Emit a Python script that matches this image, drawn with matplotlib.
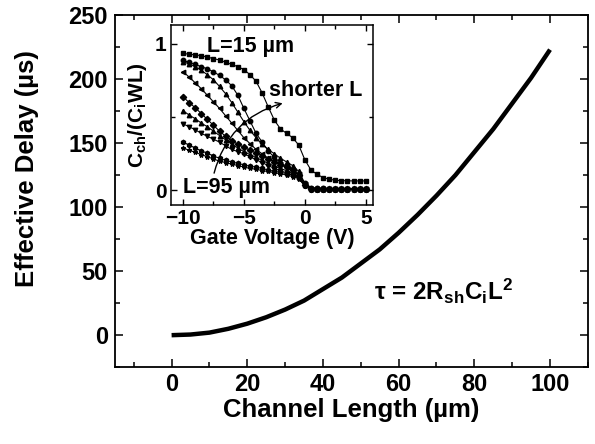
import numpy as np
import matplotlib
matplotlib.use("Agg")
import matplotlib.pyplot as plt
from matplotlib.ticker import MultipleLocator

plt.rcParams['font.family'] = ['Liberation Sans', 'DejaVu Sans']
plt.rcParams['font.weight'] = 'bold'
plt.rcParams['mathtext.fontset'] = 'custom'
plt.rcParams['mathtext.rm'] = 'Liberation Sans:bold'
plt.rcParams['mathtext.it'] = 'Liberation Sans:bold'
plt.rcParams['mathtext.bf'] = 'Liberation Sans:bold'

# main curve: effective delay vs channel length
channel_length = [0, 5, 10, 15, 20, 25, 30, 35, 40, 45, 50,
                  55, 60, 65, 70, 75, 80, 85, 90, 95, 100]
delay = [0, 0.5, 2, 5, 9, 14, 20, 27, 36, 45, 56,
         67, 80, 94, 109, 125, 143, 161, 181, 201, 223]

# inset: normalized channel capacitance vs gate voltage
gate_v = [-10, -9.5, -9, -8.5, -8, -7.5, -7, -6.5, -6, -5.5, -5, -4.5, -4, -3.5, -3, -2.5,
          -2, -1.5, -1, -0.5, 0, 0.5, 1, 1.5, 2, 2.5, 3, 3.5, 4, 4.5, 5]
c_L15 = [0.935, 0.93, 0.925, 0.92, 0.91, 0.90, 0.89, 0.875, 0.86, 0.845, 0.825, 0.79, 0.745, 0.665,
         0.57, 0.48, 0.42, 0.39, 0.36, 0.31, 0.21, 0.14, 0.11, 0.088, 0.077, 0.07, 0.067, 0.066,
         0.065, 0.065, 0.065]
c_L25 = [0.888, 0.875, 0.86, 0.845, 0.83, 0.81, 0.785, 0.755, 0.715, 0.65, 0.56, 0.475, 0.39, 0.33,
         0.27, 0.225, 0.19, 0.165, 0.14, 0.10, 0.05, 0.02, 0.015, 0.015, 0.012, 0.012, 0.012, 0.012,
         0.012, 0.012, 0.012]
c_L35 = [0.878, 0.865, 0.845, 0.82, 0.79, 0.755, 0.71, 0.66, 0.60, 0.535, 0.47, 0.41, 0.36, 0.315,
         0.28, 0.25, 0.22, 0.195, 0.17, 0.13, 0.05, 0.015, 0.012, 0.012, 0.012, 0.012, 0.012, 0.012,
         0.012, 0.012, 0.012]
c_L45 = [0.81, 0.775, 0.735, 0.695, 0.65, 0.605, 0.56, 0.51, 0.46, 0.41, 0.36, 0.32, 0.28, 0.25,
         0.22, 0.20, 0.18, 0.16, 0.14, 0.11, 0.045, 0.012, 0.01, 0.01, 0.01, 0.01, 0.01, 0.01,
         0.01, 0.01, 0.01]
c_L55 = [0.64, 0.60, 0.565, 0.525, 0.485, 0.445, 0.405, 0.37, 0.34, 0.315, 0.295, 0.275, 0.255, 0.235,
         0.215, 0.195, 0.175, 0.16, 0.14, 0.105, 0.04, 0.01, 0.01, 0.01, 0.01, 0.01, 0.01, 0.01,
         0.01, 0.01, 0.01]
c_L65 = [0.545, 0.515, 0.49, 0.46, 0.435, 0.405, 0.375, 0.345, 0.315, 0.29, 0.265, 0.245, 0.225, 0.205,
         0.185, 0.165, 0.15, 0.135, 0.115, 0.095, 0.04, 0.01, 0.01, 0.01, 0.01, 0.01, 0.01, 0.01,
         0.01, 0.01, 0.01]
c_L75 = [0.455, 0.435, 0.415, 0.39, 0.37, 0.35, 0.33, 0.305, 0.28, 0.265, 0.25, 0.23, 0.21, 0.19,
         0.17, 0.15, 0.135, 0.12, 0.105, 0.085, 0.035, 0.01, 0.01, 0.01, 0.01, 0.01, 0.01, 0.01,
         0.01, 0.01, 0.01]
c_L85 = [0.33, 0.31, 0.29, 0.27, 0.255, 0.235, 0.22, 0.205, 0.195, 0.185, 0.175, 0.165, 0.16, 0.15,
         0.14, 0.13, 0.125, 0.115, 0.105, 0.085, 0.035, 0.01, 0.008, 0.008, 0.008, 0.008, 0.008, 0.008,
         0.008, 0.008, 0.008]
c_L95 = [0.29, 0.275, 0.26, 0.245, 0.23, 0.215, 0.2, 0.19, 0.18, 0.17, 0.16, 0.15, 0.145, 0.135,
         0.13, 0.12, 0.115, 0.105, 0.095, 0.08, 0.03, 0.006, 0.006, 0.006, 0.006, 0.006, 0.006, 0.006,
         0.006, 0.006, 0.006]
inset_series = [c_L15, c_L25, c_L35, c_L45, c_L55, c_L65, c_L75, c_L85, c_L95]
markers = ['s', 'o', '^', '<', 'D', '^', 'v', 'h', '*']

fig = plt.figure(figsize=(5.95, 4.44), dpi=100)
ax = fig.add_axes([0.193, 0.173, 0.795, 0.793])

ax.plot(channel_length, delay, color='black', lw=3.2, solid_capstyle='butt')
ax.set_xlim(-15, 110)
ax.set_ylim(-25, 250)
ax.xaxis.set_major_locator(MultipleLocator(20))
ax.xaxis.set_minor_locator(MultipleLocator(10))
ax.yaxis.set_major_locator(MultipleLocator(50))
ax.yaxis.set_minor_locator(MultipleLocator(25))
ax.tick_params(which='both', direction='in', top=True, right=True, width=1.1)
ax.tick_params(which='major', length=6, labelsize=17, pad=5)
ax.tick_params(axis='x', which='major', pad=4)
ax.tick_params(which='minor', length=3.5)
for s in ax.spines.values():
    s.set_linewidth(1.3)
ax.set_xticks([0, 20, 40, 60, 80, 100])
ax.set_xlabel('Channel Length (µm)', fontsize=18.5, fontweight='bold')
ax.set_ylabel('Effective Delay (µs)', fontsize=18.5, fontweight='bold')
ax.xaxis.set_label_coords(0.5, -0.088)
ax.yaxis.set_label_coords(-0.16, 0.565)
ax.text(53.5, 34, r'$\tau$ = 2R$_{sh}$C$_{i}$L$^{2}$', fontsize=17.5, fontweight='bold',
        va='center', ha='left')

# inset
ai = fig.add_axes([0.287, 0.538, 0.340, 0.406])
for vals, m in zip(inset_series, markers):
    ai.plot(gate_v, vals, color='black', lw=0.8, marker=m, ms=3.2, mec='black', mfc='black')
ai.set_xlim(-11, 5.6)
ai.set_ylim(-0.1, 1.13)
ai.xaxis.set_major_locator(MultipleLocator(5))
ai.xaxis.set_minor_locator(MultipleLocator(2.5))
ai.set_yticks([0, 1])
ai.yaxis.set_minor_locator(MultipleLocator(0.5))
ai.tick_params(which='both', direction='in', top=True, right=True, width=1)
ai.tick_params(which='major', length=4, labelsize=15, pad=3)
ai.tick_params(which='minor', length=3)
for s in ai.spines.values():
    s.set_linewidth(1.1)
ai.set_xlabel('Gate Voltage (V)', fontsize=15.5, fontweight='bold', labelpad=0)
ai.set_ylabel(r'C$_{ch}$/(C$_{i}$WL)', fontsize=15, fontweight='bold', labelpad=4)

ai.text(-8.0, 0.985, 'L=15 µm', fontsize=15.5, fontweight='bold', va='center', ha='left')
ai.text(-2.9, 0.68, 'shorter L', fontsize=15.5, fontweight='bold', va='center', ha='left')
ai.text(-10.0, 0.02, 'L=95 µm', fontsize=15.5, fontweight='bold', va='center', ha='left')
ai.annotate('', xy=(-1.6, 0.6), xytext=(-7.5, 0.1),
            arrowprops=dict(arrowstyle='->', color='black', lw=1,
                            connectionstyle='arc3,rad=-0.3'))

fig.savefig('out.png', dpi=100)
